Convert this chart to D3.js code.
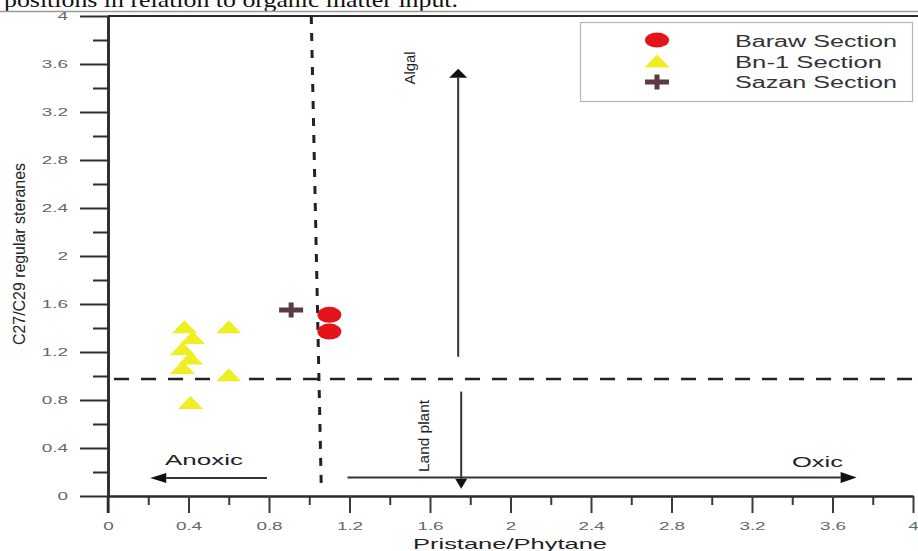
<!DOCTYPE html>
<html>
<head>
<meta charset="utf-8">
<script src="https://cdn.jsdelivr.net/npm/d3@7"></script>
<style>
  html, body { margin: 0; padding: 0; background: #fff; }
  svg { display: block; }
  text { font-family: "Liberation Sans", Arial, sans-serif; }
</style>
</head>
<body>
<svg id="chart" width="918" height="551"></svg>
<script>
// ---- data ----
const tickValues = [0, 0.4, 0.8, 1.2, 1.6, 2, 2.4, 2.8, 3.2, 3.6, 4];
const tickLabels = ["0", "0.4", "0.8", "1.2", "1.6", "2", "2.4", "2.8", "3.2", "3.6", "4"];
const minorTicks = [0.2, 0.6, 1.0, 1.4, 1.8, 2.2, 2.6, 3.0, 3.4, 3.8];

// Pristane/Phytane (x) vs C27/C29 regular steranes (y)
const barawX = [1.10, 1.10];
const barawY = [1.51, 1.37];
const bn1X = [0.38, 0.60, 0.42, 0.37, 0.41, 0.37, 0.60, 0.41];
const bn1Y = [1.41, 1.41, 1.32, 1.23, 1.15, 1.07, 1.01, 0.78];
const sazanX = [0.91];
const sazanY = [1.55];

const seriesNames = ["Baraw Section", "Bn-1 Section", "Sazan Section"];

// boundary lines (data units)
const prPhBoundary = [[1.01, 4.0], [1.06, 0.05]];
const steraneBoundary = [[0.03, 0.975], [4.03, 0.975]];

// direction arrows (from -> to, data units)
const algalArrow = [[1.74, 1.16], [1.74, 3.56]];
const landArrow = [[1.755, 0.87], [1.755, 0.06]];
const anoxicArrow = [[0.79, 0.15], [0.21, 0.15]];
const oxicArrow = [[1.19, 0.155], [3.72, 0.155]];

// ---- layout ----
const svg = d3.select("#chart");
const x = d3.scaleLinear().domain([0, 4]).range([108, 913]);
const y = d3.scaleLinear().domain([0, 4]).range([496, 16]);
const ink = "#2a2a2a";

// caption fragment and page rule at the very top
svg.append("text")
  .attr("x", 4).attr("y", 7)
  .style("font-family", "'Liberation Serif', 'Times New Roman', serif")
  .attr("font-size", 22)
  .attr("textLength", 454).attr("lengthAdjust", "spacingAndGlyphs")
  .attr("fill", "#111")
  .text("positions in relation to organic matter input.");
svg.append("line").attr("x1", 0).attr("x2", 918).attr("y1", 11.5).attr("y2", 11.5)
  .attr("stroke", "#9a9a9a").attr("stroke-width", 1.5);

// top frame line
svg.append("line").attr("x1", x(0)).attr("x2", 918).attr("y1", y(4)).attr("y2", y(4))
  .attr("stroke", ink).attr("stroke-width", 2);

// ---- axes ----
const fmt = d => tickLabels[tickValues.indexOf(d)];

const xMinor = svg.append("g").attr("transform", `translate(0,${y(0)})`)
  .call(d3.axisBottom(x).tickValues(minorTicks).tickSize(9).tickSizeOuter(0).tickFormat(""));
const xMajor = svg.append("g").attr("transform", `translate(0,${y(0)})`)
  .call(d3.axisBottom(x).tickValues(tickValues).tickSize(17).tickSizeOuter(0).tickPadding(10).tickFormat(fmt));
[xMinor, xMajor].forEach(g => {
  g.select(".domain").attr("stroke", ink).attr("stroke-width", 2);
  g.selectAll(".tick line").attr("stroke", "#3a3a3a").attr("stroke-width", 2);
});
xMajor.selectAll(".tick text")
  .attr("font-size", 10.5).attr("fill", "#666")
  .attr("font-family", "'Liberation Sans', Arial, sans-serif")
  .attr("transform", "scale(1.8,1)");

const yMinor = svg.append("g").attr("transform", `translate(${x(0)},0)`)
  .call(d3.axisLeft(y).tickValues(minorTicks).tickSize(15).tickSizeOuter(0).tickFormat(""));
const yMajor = svg.append("g").attr("transform", `translate(${x(0)},0)`)
  .call(d3.axisLeft(y).tickValues(tickValues).tickSize(28).tickSizeOuter(0).tickFormat(fmt));
[yMinor, yMajor].forEach(g => {
  g.select(".domain").attr("stroke", ink).attr("stroke-width", 2.5);
  g.selectAll(".tick line").attr("stroke", "#2f2f2f").attr("stroke-width", 2);
});
yMajor.selectAll(".tick text")
  .attr("font-size", 10.5).attr("fill", "#666")
  .attr("font-family", "'Liberation Sans', Arial, sans-serif")
  .attr("x", 0)
  .attr("transform", "translate(-40,0) scale(1.8,1)");

// y axis runs a little below the x axis (x = 0 tick)
svg.append("line").attr("x1", x(0)).attr("x2", x(0)).attr("y1", y(0)).attr("y2", y(0) + 17)
  .attr("stroke", ink).attr("stroke-width", 2.5);

// axis titles
svg.append("text")
  .attr("x", 413).attr("y", 549)
  .attr("font-size", 15).attr("fill", "#222")
  .attr("textLength", 194).attr("lengthAdjust", "spacingAndGlyphs")
  .text("Pristane/Phytane");
svg.append("text")
  .attr("transform", `translate(25,${254}) rotate(-90)`)
  .attr("text-anchor", "middle")
  .attr("font-size", 16).attr("fill", "#222")
  .attr("textLength", 182).attr("lengthAdjust", "spacingAndGlyphs")
  .text("C27/C29 regular steranes");

// ---- boundary lines ----
const line = d3.line().x(d => x(d[0])).y(d => y(d[1]));
svg.append("path").attr("d", line(steraneBoundary))
  .attr("fill", "none").attr("stroke", "#222").attr("stroke-width", 2.5)
  .attr("stroke-dasharray", "15,12");
svg.append("path").attr("d", line(prPhBoundary))
  .attr("fill", "none").attr("stroke", "#222").attr("stroke-width", 3)
  .attr("stroke-dasharray", "8,9");

// ---- arrows ----
function arrow(pts, headLen, headHalf) {
  const [p0, p1] = pts.map(p => [x(p[0]), y(p[1])]);
  const dx = p1[0] - p0[0], dy = p1[1] - p0[1];
  const L = Math.hypot(dx, dy), ux = dx / L, uy = dy / L;
  const bx = p1[0] - ux * headLen, by = p1[1] - uy * headLen;
  svg.append("line")
    .attr("x1", p0[0]).attr("y1", p0[1]).attr("x2", bx).attr("y2", by)
    .attr("stroke", "#333").attr("stroke-width", 2);
  svg.append("path")
    .attr("d", `M${p1[0]},${p1[1]} L${bx - uy * headHalf},${by + ux * headHalf} L${bx + uy * headHalf},${by - ux * headHalf} Z`)
    .attr("fill", "#111");
}
arrow(algalArrow, 9, 9);
arrow(landArrow, 10, 6);
arrow(anoxicArrow, 16, 5);
arrow(oxicArrow, 16, 5.5);

// arrow labels
svg.append("text")
  .attr("transform", `translate(415,68) rotate(-90)`)
  .attr("text-anchor", "middle").attr("font-size", 15).attr("fill", "#222")
  .attr("textLength", 33).attr("lengthAdjust", "spacingAndGlyphs")
  .text("Algal");
svg.append("text")
  .attr("transform", `translate(429,436) rotate(-90)`)
  .attr("text-anchor", "middle").attr("font-size", 15).attr("fill", "#222")
  .attr("textLength", 72).attr("lengthAdjust", "spacingAndGlyphs")
  .text("Land plant");
svg.append("text")
  .attr("x", 165).attr("y", 465).attr("font-size", 14).attr("fill", "#222")
  .attr("textLength", 78).attr("lengthAdjust", "spacingAndGlyphs")
  .text("Anoxic");
svg.append("text")
  .attr("x", 792).attr("y", 467).attr("font-size", 14).attr("fill", "#222")
  .attr("textLength", 51).attr("lengthAdjust", "spacingAndGlyphs")
  .text("Oxic");

// ---- markers ----
const red = "#e3151b", yellow = "#eeee22", brown = "#5c3a41";
const trianglePath = "M0,-6.5 L12.5,6.5 L-12.5,6.5 Z";
const crossPath = "M-12,-2.5 H-2.5 V-7.5 H2.5 V-2.5 H12 V2.5 H2.5 V7.5 H-2.5 V2.5 H-12 Z";

const bn1 = bn1X.map((v, i) => [v, bn1Y[i]]);
svg.append("g").selectAll("path").data(bn1).join("path")
  .attr("d", trianglePath)
  .attr("transform", d => `translate(${x(d[0])},${y(d[1])})`)
  .attr("fill", yellow);

const baraw = barawX.map((v, i) => [v, barawY[i]]);
svg.append("g").selectAll("ellipse").data(baraw).join("ellipse")
  .attr("cx", d => x(d[0])).attr("cy", d => y(d[1]))
  .attr("rx", 12).attr("ry", 8)
  .attr("fill", red);

const sazan = sazanX.map((v, i) => [v, sazanY[i]]);
svg.append("g").selectAll("path").data(sazan).join("path")
  .attr("d", crossPath)
  .attr("transform", d => `translate(${x(d[0])},${y(d[1])})`)
  .attr("fill", brown);

// ---- legend ----
const legend = svg.append("g");
legend.append("rect")
  .attr("x", 580.5).attr("y", 22.5).attr("width", 332).attr("height", 79)
  .attr("fill", "#fff").attr("stroke", "#b5b5b5").attr("stroke-width", 1.2);
const rowsY = [40, 61, 82];
const baselines = [47, 68, 88];
const widths = [162, 147, 162];
legend.append("ellipse").attr("cx", 657).attr("cy", rowsY[0]).attr("rx", 12).attr("ry", 7.5).attr("fill", red);
legend.append("path").attr("d", trianglePath).attr("transform", `translate(657,${rowsY[1]})`).attr("fill", yellow);
legend.append("path").attr("d", crossPath).attr("transform", `translate(657,${rowsY[2]})`).attr("fill", brown);
seriesNames.forEach((name, i) => {
  legend.append("text")
    .attr("x", 735).attr("y", baselines[i])
    .attr("font-size", 16).attr("fill", "#333")
    .attr("textLength", widths[i]).attr("lengthAdjust", "spacingAndGlyphs")
    .text(name);
});
</script>
</body>
</html>
